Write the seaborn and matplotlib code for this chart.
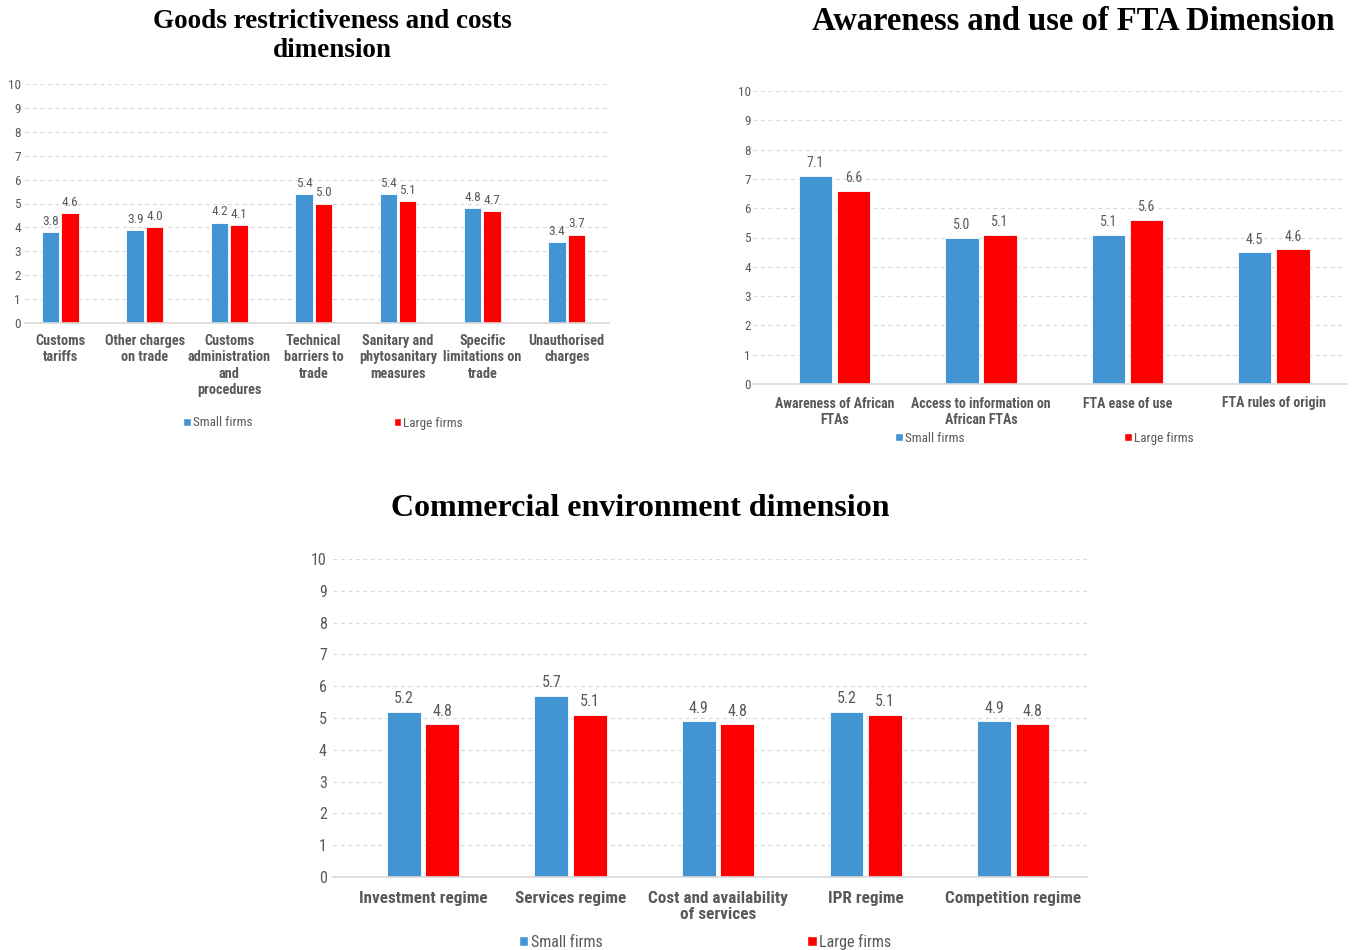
import matplotlib
matplotlib.use("Agg")
import matplotlib.pyplot as plt
import seaborn as sns
import pandas as pd
from matplotlib.patches import Patch

# ---------------- data ----------------
goods_cats = ["Customs\ntariffs", "Other charges\non trade", "Customs\nadministration\nand\nprocedures",
              "Technical\nbarriers to\ntrade", "Sanitary and\nphytosanitary\nmeasures",
              "Specific\nlimitations on\ntrade", "Unauthorised\ncharges"]
goods_small = [3.8, 3.9, 4.2, 5.4, 5.4, 4.8, 3.4]
goods_large = [4.6, 4.0, 4.1, 5.0, 5.1, 4.7, 3.7]

fta_cats = ["Awareness of African\nFTAs", "Access to information on\nAfrican FTAs",
            "FTA ease of use", "FTA rules of origin"]
fta_small = [7.1, 5.0, 5.1, 4.5]
fta_large = [6.6, 5.1, 5.6, 4.6]

comm_cats = ["Investment regime", "Services regime", "Cost and availability\nof services",
             "IPR regime", "Competition regime"]
comm_small = [5.2, 5.7, 4.9, 5.2, 4.9]
comm_large = [4.8, 5.1, 4.8, 5.1, 4.8]

series_names = ["Small firms", "Large firms"]
titles = ["Goods restrictiveness and costs\ndimension",
          "Awareness and use of FTA Dimension",
          "Commercial environment dimension"]
yticks = list(range(0, 11))

BLUE = "#4394D2"
RED = "#FF0000"
TXT = "#595959"
NARROW = ["Roboto Condensed", "DejaVu Sans"]
SERIF = ["Liberation Serif", "DejaVu Serif"]

sns.set_theme(style="white")
plt.rcParams["font.family"] = NARROW

W, H = 1356, 950
fig = plt.figure(figsize=(W / 100, H / 100), dpi=100)


def ax_px(x0, x1, ytop, ybot):
    return fig.add_axes([x0 / W, 1 - ybot / H, (x1 - x0) / W, (ybot - ytop) / H])


def panel(ax, cats, small, large, xlim, width, gap, fs_tick, fs_cat, fs_lab, ypad, lab_pad, xpad, ls):
    df = pd.DataFrame({
        "cat": cats * 2,
        "value": small + large,
        "firm": [series_names[0]] * len(cats) + [series_names[1]] * len(cats),
    })
    sns.barplot(data=df, x="cat", y="value", hue="firm", order=cats, hue_order=series_names,
                palette=[BLUE, RED], width=width, gap=gap, ax=ax, legend=False,
                saturation=1, edgecolor="white", linewidth=0.6, errorbar=None)
    for c in ax.containers:
        ax.bar_label(c, fmt="%.1f", padding=lab_pad, fontsize=fs_lab, color=TXT)
    ax.set_ylim(0, 10)
    ax.set_yticks(yticks)
    ax.set_xlim(*xlim)
    ax.yaxis.grid(True, linestyle=(0, (3, 3)), color="#D9D9D9", linewidth=0.9)
    ax.set_axisbelow(True)
    for s in ["top", "right", "left"]:
        ax.spines[s].set_visible(False)
    ax.spines["bottom"].set_color("#D9D9D9")
    ax.spines["bottom"].set_linewidth(1.2)
    ax.set_xlabel("")
    ax.set_ylabel("")
    ax.tick_params(axis="y", length=0, pad=ypad, labelsize=fs_tick, labelcolor=TXT)
    ax.tick_params(axis="x", length=0, pad=xpad, labelcolor=TXT)
    for t in ax.get_xticklabels():
        t.set_fontsize(fs_cat)
        t.set_fontweight("bold")
        t.set_linespacing(ls)
        t.set_verticalalignment("top")


def legend(ax, xc, yc, fs, cs):
    handles = [Patch(facecolor=BLUE), Patch(facecolor=RED)]
    ax.legend(handles, series_names, loc="center", bbox_to_anchor=(xc / W, 1 - yc / H),
              bbox_transform=fig.transFigure, ncol=2, frameon=False, fontsize=fs,
              handlelength=0.6, handleheight=0.6, handletextpad=0.15, columnspacing=cs,
              labelcolor=TXT)


# Panel 1
ax1 = ax_px(25, 609, 84, 323)
panel(ax1, goods_cats, goods_small, goods_large, (-0.42, 6.5), 0.46, 0.1,
      9.5, 10.3, 9.5, 3, 3, 8, 1.2)
legend(ax1, 323, 423, 9.5, 10.7)
fig.text(332 / W, 1 - 36 / H, titles[0], ha="center", va="center", fontsize=19.5,
         fontweight="bold", family=SERIF, linespacing=1.25, color="black")

# Panel 2
ax2 = ax_px(753, 1347, 91, 384)
panel(ax2, fta_cats, fta_small, fta_large, (-0.556, 3.5), 0.52, 0.12,
      9.5, 10, 10, 1.5, 4, 9, 1.2)
legend(ax2, 1044, 438, 9.5, 12.1)
fig.text(1073 / W, 1 - 22 / H, titles[1], ha="center", va="center", fontsize=23.5,
         fontweight="bold", family=SERIF, color="black")

# Panel 3
ax3 = ax_px(333, 1087, 559, 877)
panel(ax3, comm_cats, comm_small, comm_large, (-0.61, 4.5), 0.52, 0.12,
      11.5, 12.3, 11.5, 4.5, 4, 10, 1.1)
legend(ax3, 705, 942, 11.5, 12.8)
fig.text(640 / W, 1 - 508 / H, titles[2], ha="center", va="center", fontsize=23,
         fontweight="bold", family=SERIF, color="black")

fig.savefig("out.png", dpi=100)
